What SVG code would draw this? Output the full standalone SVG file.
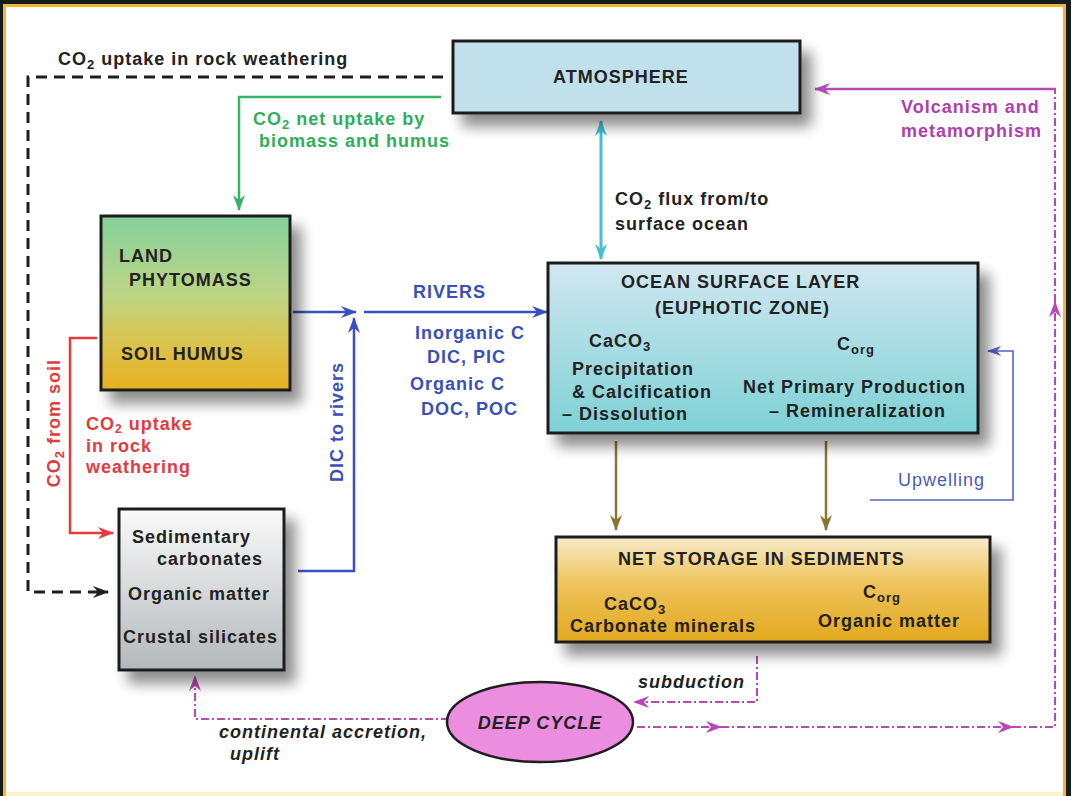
<svg xmlns="http://www.w3.org/2000/svg" width="1071" height="796" viewBox="0 0 1071 796">
<style>
text{font-family:"Liberation Sans",Arial,Helvetica,sans-serif;font-size:18px;font-weight:bold;letter-spacing:1px;fill:#222}
.sub{font-size:13px}
.sub2{font-size:12px}
.it{font-style:italic}
.green{fill:#2fae5c}
.red{fill:#e23a40}
.blue{fill:#3a4fb8}
.mag{fill:#b040b0}
.reg{font-weight:normal;fill:#4a5cb8}
.box{stroke:#1e1e1e;stroke-width:3}
.c{fill:none}
.dd{stroke:#b848b8;stroke-width:2;stroke-dasharray:8 3 2 3}
</style>
<defs>
<filter id="sh" x="-20%" y="-20%" width="150%" height="160%">
<feGaussianBlur in="SourceAlpha" stdDeviation="7"/>
<feOffset dx="10" dy="12" result="b"/>
<feComponentTransfer><feFuncA type="linear" slope="0.45"/></feComponentTransfer>
<feMerge><feMergeNode/><feMergeNode in="SourceGraphic"/></feMerge>
</filter>
<linearGradient id="gLand" x1="0" y1="0" x2="0" y2="1">
<stop offset="0" stop-color="#85d09c"/><stop offset="0.45" stop-color="#bcd585"/><stop offset="0.75" stop-color="#dcc24a"/><stop offset="1" stop-color="#e8b020"/>
</linearGradient>
<linearGradient id="gSed" x1="0" y1="0" x2="0" y2="1">
<stop offset="0" stop-color="#fafafa"/><stop offset="1" stop-color="#b3b8bb"/>
</linearGradient>
<linearGradient id="gOcean" x1="0" y1="0" x2="0" y2="1">
<stop offset="0" stop-color="#d2e7f1"/><stop offset="1" stop-color="#7dd1d5"/>
</linearGradient>
<linearGradient id="gNet" x1="0" y1="0" x2="0" y2="1">
<stop offset="0" stop-color="#f8eccb"/><stop offset="0.45" stop-color="#eec35a"/><stop offset="1" stop-color="#e2a81e"/>
</linearGradient>
<marker id="aBlack" markerUnits="userSpaceOnUse" markerWidth="16" markerHeight="12" refX="15" refY="6" orient="auto"><path d="M0,0 L16,6 L0,12 L5,6 Z" fill="#1e1e1e"/></marker>
<marker id="aGreen" markerUnits="userSpaceOnUse" markerWidth="16" markerHeight="12" refX="15" refY="6" orient="auto"><path d="M0,0 L16,6 L0,12 L5,6 Z" fill="#34b465"/></marker>
<marker id="aCyan" markerUnits="userSpaceOnUse" markerWidth="16" markerHeight="12" refX="15" refY="6" orient="auto-start-reverse"><path d="M0,0 L16,6 L0,12 L5,6 Z" fill="#42c0d6"/></marker>
<marker id="aBlue" markerUnits="userSpaceOnUse" markerWidth="16" markerHeight="12" refX="15" refY="6" orient="auto"><path d="M0,0 L16,6 L0,12 L5,6 Z" fill="#3a50c0"/></marker>
<marker id="aRed" markerUnits="userSpaceOnUse" markerWidth="16" markerHeight="12" refX="15" refY="6" orient="auto"><path d="M0,0 L16,6 L0,12 L5,6 Z" fill="#e63a3f"/></marker>
<marker id="aBrown" markerUnits="userSpaceOnUse" markerWidth="16" markerHeight="12" refX="15" refY="6" orient="auto"><path d="M0,0 L16,6 L0,12 L5,6 Z" fill="#8a7535"/></marker>
<marker id="aUp" markerUnits="userSpaceOnUse" markerWidth="14" markerHeight="10" refX="13" refY="5" orient="auto"><path d="M0,0 L14,5 L0,10 L4,5 Z" fill="#5064c4"/></marker>
<marker id="aMag" markerUnits="userSpaceOnUse" markerWidth="16" markerHeight="12" refX="15" refY="6" orient="auto"><path d="M0,0 L16,6 L0,12 L5,6 Z" fill="#b848b8"/></marker>
</defs>

<rect x="0" y="0" width="1071" height="796" fill="#161c1d"/>
<rect x="3" y="4" width="1063" height="792" fill="#f3b632"/>
<rect x="6" y="7" width="1057" height="786" fill="#ffffff"/>
<rect x="6" y="792" width="1057" height="4" fill="#fbf3c8"/>

<g id="connectors">
<path class="c" d="M443,77 H28 V592 H108" stroke="#1e1e1e" stroke-width="3" stroke-dasharray="11 7" marker-end="url(#aBlack)"/>
<path class="c" d="M441,97 H239 V210" stroke="#34b465" stroke-width="2.5" marker-end="url(#aGreen)"/>
<path class="c" d="M601,121 V259" stroke="#42c0d6" stroke-width="3" marker-start="url(#aCyan)" marker-end="url(#aCyan)"/>
<path class="c" d="M293,312 H356" stroke="#3a50c0" stroke-width="2.5" marker-end="url(#aBlue)"/>
<path class="c" d="M364,312 H547" stroke="#3a50c0" stroke-width="2.5" marker-end="url(#aBlue)"/>
<path class="c" d="M298,571 H354 V318" stroke="#3a50c0" stroke-width="2.5" marker-end="url(#aBlue)"/>
<path class="c" d="M97,338 H70 V533 H113" stroke="#e63a3f" stroke-width="2.5" marker-end="url(#aRed)"/>
<path class="c" d="M616,441 V530" stroke="#8a7535" stroke-width="2.5" marker-end="url(#aBrown)"/>
<path class="c" d="M826,441 V530" stroke="#8a7535" stroke-width="2.5" marker-end="url(#aBrown)"/>
<path class="c" d="M870,500 H1013 V351 H988" stroke="#5064c4" stroke-width="1.6" marker-end="url(#aUp)"/>
<path class="c dd" d="M449,719 H195 V676" marker-end="url(#aMag)"/>
<path class="c dd" d="M757,656 V702 H634" marker-end="url(#aMag)"/>
<path class="c dd" d="M637,727 H721" marker-end="url(#aMag)"/>
<path class="c dd" d="M721,727 H1013" marker-end="url(#aMag)"/>
<path class="c dd" d="M1013,727 H1055 V302" marker-end="url(#aMag)"/>
<path class="c dd" d="M1055,302 V89"/>
<path class="c" d="M1056,89 H815" stroke="#b848b8" stroke-width="2.5" marker-end="url(#aMag)"/>
</g>

<g id="atmosphere">
<rect class="box" x="453" y="41" width="347" height="72" fill="#c0e1eb" filter="url(#sh)"/>
<text x="553" y="83">ATMOSPHERE</text>
</g>

<g id="land">
<rect class="box" x="101" y="216" width="189" height="174" fill="url(#gLand)" filter="url(#sh)"/>
<text x="119" y="262">LAND</text>
<text x="129" y="286">PHYTOMASS</text>
<text x="121" y="360">SOIL HUMUS</text>
</g>

<g id="sedimentary">
<rect class="box" x="119" y="509" width="165" height="161" fill="url(#gSed)" filter="url(#sh)"/>
<text x="132" y="543">Sedimentary</text>
<text x="157" y="565">carbonates</text>
<text x="128" y="600">Organic matter</text>
<text x="123" y="643">Crustal silicates</text>
</g>

<g id="ocean">
<rect class="box" x="548" y="263" width="430" height="170" fill="url(#gOcean)" filter="url(#sh)"/>
<text x="621" y="288">OCEAN SURFACE LAYER</text>
<text x="655" y="314">(EUPHOTIC ZONE)</text>
<text x="589" y="347">CaCO<tspan class="sub" dy="4">3</tspan></text>
<text x="572" y="375">Precipitation</text>
<text x="572" y="398">&amp; Calcification</text>
<text x="562" y="420">– Dissolution</text>
<text x="837" y="350">C<tspan class="sub" dy="4">org</tspan></text>
<text x="743" y="393">Net Primary Production</text>
<text x="769" y="417">– Remineralization</text>
</g>

<g id="netstorage">
<rect class="box" x="556" y="537" width="434" height="105" fill="url(#gNet)" filter="url(#sh)"/>
<text x="618" y="565">NET STORAGE IN SEDIMENTS</text>
<text x="604" y="610">CaCO<tspan class="sub" dy="4">3</tspan></text>
<text x="570" y="632">Carbonate minerals</text>
<text x="863" y="598">C<tspan class="sub" dy="4">org</tspan></text>
<text x="818" y="627">Organic matter</text>
</g>

<g id="deepcycle">
<ellipse cx="540" cy="722" rx="93" ry="40" fill="#ec8ee0" stroke="#1e1e1e" stroke-width="2.5"/>
<text class="it" x="540" y="729" text-anchor="middle">DEEP CYCLE</text>
</g>

<g id="labels">
<text x="58" y="65">CO<tspan class="sub" dy="4">2</tspan><tspan dy="-4"> uptake in rock weathering</tspan></text>
<text class="green" x="253" y="125">CO<tspan class="sub" dy="4">2</tspan><tspan dy="-4"> net uptake by</tspan></text>
<text class="green" x="259" y="147">biomass and humus</text>
<text class="mag" x="901" y="113">Volcanism and</text>
<text class="mag" x="901" y="137">metamorphism</text>
<text x="615" y="205">CO<tspan class="sub" dy="4">2</tspan><tspan dy="-4"> flux from/to</tspan></text>
<text x="615" y="230">surface ocean</text>
<text class="blue" x="413" y="298">RIVERS</text>
<text class="blue" x="415" y="339">Inorganic C</text>
<text class="blue" x="427" y="363">DIC, PIC</text>
<text class="blue" x="410" y="390">Organic C</text>
<text class="blue" x="421" y="415">DOC, POC</text>
<text class="red" text-anchor="middle" transform="translate(60,423) rotate(-90)">CO<tspan class="sub" dy="4">2</tspan><tspan dy="-4"> from soil</tspan></text>
<text class="red" x="86" y="430">CO<tspan class="sub2" dy="3">2</tspan><tspan dy="-3"> uptake</tspan></text>
<text class="red" x="86" y="452">in rock</text>
<text class="red" x="86" y="473">weathering</text>
<text class="blue" text-anchor="middle" transform="translate(343,422) rotate(-90)">DIC to rivers</text>
<text class="reg" x="898" y="486">Upwelling</text>
<text class="it" x="638" y="688">subduction</text>
<text class="it" x="219" y="738">continental accretion,</text>
<text class="it" x="230" y="760">uplift</text>
</g>
</svg>
